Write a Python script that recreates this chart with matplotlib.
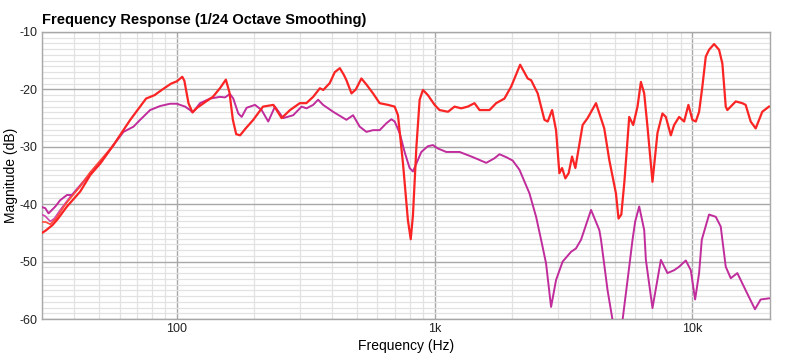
import matplotlib
matplotlib.use("Agg")
import matplotlib.pyplot as plt
from matplotlib.ticker import FixedLocator, NullFormatter

# --- data (Hz, dB) ---
RED_F = [30, 31, 33, 34.5, 37.5, 42.2, 46.2, 50.5, 56.8, 62.1, 66, 72, 76, 82, 88, 95,
         100, 105, 107, 111, 115, 120, 128, 138, 147, 155, 160, 165, 170, 176, 185, 198,
         216, 237, 255, 275, 300, 318, 338, 359, 370, 392, 410, 429, 445, 455, 476, 495,
         520, 545, 577, 612, 660, 700, 721, 754, 788, 808, 824, 850, 875, 901, 942, 1000,
         1045, 1127, 1195, 1268, 1345, 1428, 1494, 1633, 1733, 1866, 1982, 2147, 2297, 2368,
         2512, 2667, 2747, 2856, 2959, 3048, 3122, 3215, 3311, 3413, 3516, 3752, 3922, 4227,
         4551, 4760, 5051, 5170, 5300, 5450, 5688, 5894, 6125, 6313, 6502, 6696, 7001, 7320,
         7653, 7889, 8248, 8495, 8881, 9287, 9650, 10000, 10308, 10617, 10932, 11268, 11604,
         12136, 12690, 13070, 13470, 13663, 14723, 15614, 16093, 16830, 17600, 18664, 19817]
RED_DB = [-45.0, -44.6, -43.6, -42.6, -40.4, -37.8, -34.9, -32.9, -29.7, -27.1, -25.3, -23.0,
          -21.6, -21.0, -20.0, -19.0, -18.6, -17.8, -18.5, -22.4, -24.0, -23.2, -22.3, -21.3,
          -19.8, -18.3, -20.5, -25.3, -27.8, -28.0, -26.8, -25.3, -23.0, -22.7, -25.0, -23.6,
          -22.4, -22.4, -21.3, -19.8, -20.1, -18.9, -17.0, -16.3, -17.5, -18.4, -20.7, -20.0,
          -18.1, -19.2, -20.7, -22.4, -22.7, -23.0, -24.5, -32.9, -42.8, -46.1, -42.0, -30.0,
          -21.8, -20.1, -21.0, -22.7, -23.6, -23.9, -23.0, -23.3, -23.0, -22.4, -23.6, -23.6,
          -22.4, -21.6, -19.5, -15.7, -18.1, -18.4, -20.7, -25.3, -25.6, -23.6, -27.1, -34.6,
          -33.7, -35.5, -34.6, -31.7, -33.7, -26.2, -25.0, -22.4, -26.8, -32.3, -38.1, -42.5,
          -41.8, -36.0, -24.8, -26.2, -23.0, -18.7, -20.7, -26.5, -36.1, -27.6, -24.2, -24.8,
          -28.0, -26.2, -24.8, -25.6, -22.7, -25.3, -25.6, -23.9, -19.5, -14.3, -13.1, -12.1,
          -13.1, -15.5, -23.0, -23.6, -22.1, -22.4, -22.7, -25.6, -26.8, -23.9, -23.0]

# second red trace only separates from the first below ~57 Hz
RED2_F = [30, 31, 32.3, 34, 37, 42, 46, 50, 56.8]
RED2_DB = [-43.1, -43.1, -43.5, -42.5, -40.0, -37.0, -34.5, -32.6, -29.7]

MAG_F = [30, 30.9, 31.8, 33.8, 35.3, 37.5, 39.2, 42.2, 46.9, 52, 56.8, 62.1, 67.9, 72.1, 78.8,
         86.1, 94.2, 100, 107.7, 112.6, 115.3, 123.1, 134.6, 147.1, 153.8, 160.8, 165.6,
         173.2, 178.5, 186.6, 201, 213.4, 226.3, 240.3, 258.7, 282.8, 304.7, 318.6, 337.9,
         353.3, 369.4, 404, 455, 482.7, 512.4, 543.9, 576.9, 612.5, 650, 680, 700, 732, 765,
         800, 824, 850, 888, 942, 985, 1030, 1110, 1250, 1407, 1586, 1707, 1785, 1895, 2009,
         2134, 2333, 2476, 2589, 2706, 2830, 2959, 3138, 3382, 3537, 3698, 4044, 4355, 4421,
         4688, 4902, 5100, 5358, 5688, 5858, 6000, 6218, 6502, 6601, 7001, 7547, 8003, 8495,
         8881, 9428, 9858, 10245, 10617, 10874, 11604, 12322, 12882, 13070, 13470, 14089,
         14939, 16093, 17487, 18400, 19817]
MAG_DB = [-40.5, -40.7, -41.6, -40.4, -39.3, -38.4, -38.4, -36.7, -34.3, -32.0, -29.7, -27.4,
          -26.5, -25.3, -23.6, -22.9, -22.5, -22.5, -23.0, -23.6, -24.0, -22.4, -21.6, -21.3,
          -21.4, -20.8, -21.6, -24.2, -24.8, -23.2, -22.7, -23.6, -25.6, -23.0, -25.0, -24.5,
          -23.0, -23.3, -22.7, -21.8, -22.7, -23.9, -25.3, -24.5, -26.5, -27.4, -27.1, -27.1,
          -25.9, -25.2, -25.6, -27.6, -30.9, -33.7, -34.3, -32.9, -30.9, -29.9, -29.7, -30.3,
          -30.9, -30.9, -31.8, -32.8, -32.0, -31.3, -31.8, -32.4, -34.0, -38.1, -42.2, -46.2,
          -50.3, -57.9, -53.2, -50.0, -48.3, -47.7, -46.2, -41.0, -44.5, -46.2, -55.0, -60.2,
          -62.5, -60.2, -50.9, -46.2, -43.0, -40.4, -44.5, -49.7, -58.1, -49.7, -52.0, -51.5,
          -50.9, -49.8, -51.5, -56.6, -52.0, -46.2, -41.8, -42.2, -43.9, -46.2, -50.9, -52.9,
          -52.0, -55.0, -58.3, -56.6, -56.4]

MAG2_F = [30, 30.9, 32.3, 33.5, 35.3, 38.6, 42, 46, 50, 56.8]
MAG2_DB = [-41.8, -42.1, -43.0, -42.5, -41.0, -38.7, -37.0, -34.8, -33.0, -29.7]

X_TICKS = [100, 1000, 10000]
X_LABELS = ["100", "1k", "10k"]
Y_TICKS = [-60, -50, -40, -30, -20, -10]

plt.rcParams["font.family"] = ["Liberation Sans", "DejaVu Sans"]
plt.rcParams["axes.unicode_minus"] = False

fig = plt.figure(figsize=(8.0, 3.55), dpi=100)
ax = fig.add_axes([0.0525, 0.1014, 0.91, 0.8085])

ax.plot(MAG2_F, MAG2_DB, color="#D048B0", linewidth=1.2, zorder=3)
ax.plot(MAG_F, MAG_DB, color="#C02C9C", linewidth=1.4, zorder=3)
ax.plot(RED2_F, RED2_DB, color="#FF4A3A", linewidth=1.2, zorder=4)
ax.plot(RED_F, RED_DB, color="#FA2424", linewidth=1.6, zorder=4)

ax.set_xscale("log")
ax.set_xlim(30, 20000)
ax.set_ylim(-60, -10)

ax.xaxis.set_major_locator(FixedLocator(X_TICKS))
ax.set_xticklabels(X_LABELS)
minor_x = [m * d for d in (10, 100, 1000, 10000) for m in range(2, 10) if 30 <= m * d <= 20000]
ax.xaxis.set_minor_locator(FixedLocator(minor_x))
ax.xaxis.set_minor_formatter(NullFormatter())
ax.set_yticks(Y_TICKS)
ax.yaxis.set_minor_locator(FixedLocator([v for v in range(-60, -9) if v % 10]))

ax.grid(True, which="major", color="#A8A8A8", linewidth=1.0, zorder=0)
ax.grid(True, which="minor", color="#E2E2E2", linewidth=0.9, zorder=0)
ax.set_axisbelow(True)
ax.tick_params(which="both", length=0, labelsize=9, colors="#222222", pad=3)
for s in ax.spines.values():
    s.set_color("#A8A8A8")
    s.set_linewidth(1.0)

ax.set_xlabel("Frequency (Hz)", fontsize=10, labelpad=3)
ax.set_ylabel("Magnitude (dB)", fontsize=10)
ax.yaxis.set_label_coords(-0.033, 0.5)
fig.text(0.0525, 0.925, "Frequency Response (1/24 Octave Smoothing)",
         fontsize=10.5, fontweight="bold", ha="left", va="bottom")

fig.savefig("out.png", dpi=100)
